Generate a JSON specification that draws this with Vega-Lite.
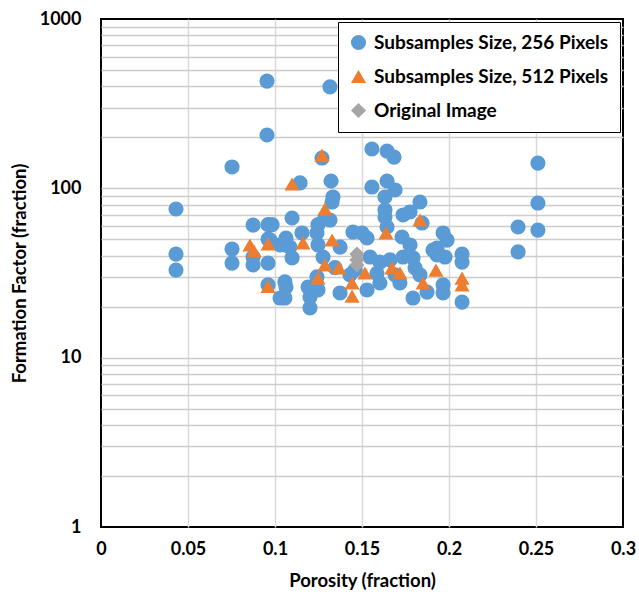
{
 "$schema": "https://vega.github.io/schema/vega-lite/v6.json",
 "width": 522, "height": 508,
 "autosize": "none",
 "padding": {"left": 101, "top": 19, "right": 16, "bottom": 74},
 "background": "white",
 "config": {
  "font": "Lato",
  "view": {"stroke": "black", "strokeWidth": 2},
  "axis": {"labelFont": "Lato", "labelFontSize": 18, "labelFontWeight": "bold", "labelColor": "black",
           "titleFont": "Lato", "titleFontSize": 18.5, "titleFontWeight": "bold", "titleColor": "black",
           "ticks": false, "domain": false, "gridWidth": 1.5, "labelOverlap": false, "labelFlush": false},
  "legend": {"labelFont": "Lato", "labelFontSize": 19, "labelFontWeight": "bold", "labelColor": "black",
             "strokeColor": "black", "fillColor": "white", "padding": 11, "rowPadding": 14,
             "symbolSize": 75, "symbolStrokeWidth": 0, "labelLimit": 400, "labelOffset": 6, "offset": 3}
 },
 "data": {"values": [
  {"s":"Subsamples Size, 256 Pixels","p":0.0431,"f":75.5},
  {"s":"Subsamples Size, 256 Pixels","p":0.0431,"f":40.9},
  {"s":"Subsamples Size, 256 Pixels","p":0.0431,"f":32.9},
  {"s":"Subsamples Size, 256 Pixels","p":0.0753,"f":133.7},
  {"s":"Subsamples Size, 256 Pixels","p":0.0753,"f":43.8},
  {"s":"Subsamples Size, 256 Pixels","p":0.0753,"f":36.2},
  {"s":"Subsamples Size, 256 Pixels","p":0.0874,"f":60.7},
  {"s":"Subsamples Size, 256 Pixels","p":0.0874,"f":39.3},
  {"s":"Subsamples Size, 256 Pixels","p":0.0874,"f":35.3},
  {"s":"Subsamples Size, 256 Pixels","p":0.0954,"f":430},
  {"s":"Subsamples Size, 256 Pixels","p":0.0954,"f":206.5},
  {"s":"Subsamples Size, 256 Pixels","p":0.096,"f":61},
  {"s":"Subsamples Size, 256 Pixels","p":0.096,"f":50.2},
  {"s":"Subsamples Size, 256 Pixels","p":0.096,"f":36.2},
  {"s":"Subsamples Size, 256 Pixels","p":0.096,"f":26.9},
  {"s":"Subsamples Size, 256 Pixels","p":0.1029,"f":46.3},
  {"s":"Subsamples Size, 256 Pixels","p":0.1029,"f":22.5},
  {"s":"Subsamples Size, 256 Pixels","p":0.1063,"f":50.9},
  {"s":"Subsamples Size, 256 Pixels","p":0.1057,"f":46.3},
  {"s":"Subsamples Size, 256 Pixels","p":0.1098,"f":66.8},
  {"s":"Subsamples Size, 256 Pixels","p":0.1098,"f":38.8},
  {"s":"Subsamples Size, 256 Pixels","p":0.1057,"f":28},
  {"s":"Subsamples Size, 256 Pixels","p":0.1063,"f":26.1},
  {"s":"Subsamples Size, 256 Pixels","p":0.1057,"f":22.5},
  {"s":"Subsamples Size, 256 Pixels","p":0.0983,"f":61},
  {"s":"Subsamples Size, 256 Pixels","p":0.0971,"f":49.6},
  {"s":"Subsamples Size, 256 Pixels","p":0.1086,"f":45},
  {"s":"Subsamples Size, 256 Pixels","p":0.1144,"f":107.6},
  {"s":"Subsamples Size, 256 Pixels","p":0.1155,"f":54.5},
  {"s":"Subsamples Size, 256 Pixels","p":0.119,"f":26.1},
  {"s":"Subsamples Size, 256 Pixels","p":0.1201,"f":22.8},
  {"s":"Subsamples Size, 256 Pixels","p":0.1201,"f":19.7},
  {"s":"Subsamples Size, 256 Pixels","p":0.1247,"f":61},
  {"s":"Subsamples Size, 256 Pixels","p":0.1241,"f":54.5},
  {"s":"Subsamples Size, 256 Pixels","p":0.1247,"f":46.3},
  {"s":"Subsamples Size, 256 Pixels","p":0.1241,"f":30},
  {"s":"Subsamples Size, 256 Pixels","p":0.1247,"f":25.1},
  {"s":"Subsamples Size, 256 Pixels","p":0.127,"f":151},
  {"s":"Subsamples Size, 256 Pixels","p":0.1276,"f":39.3},
  {"s":"Subsamples Size, 256 Pixels","p":0.1287,"f":66.8},
  {"s":"Subsamples Size, 256 Pixels","p":0.1316,"f":397},
  {"s":"Subsamples Size, 256 Pixels","p":0.1322,"f":110.5},
  {"s":"Subsamples Size, 256 Pixels","p":0.1333,"f":88.9},
  {"s":"Subsamples Size, 256 Pixels","p":0.1328,"f":83},
  {"s":"Subsamples Size, 256 Pixels","p":0.1316,"f":65},
  {"s":"Subsamples Size, 256 Pixels","p":0.1374,"f":45},
  {"s":"Subsamples Size, 256 Pixels","p":0.1374,"f":24.1},
  {"s":"Subsamples Size, 256 Pixels","p":0.1345,"f":34},
  {"s":"Subsamples Size, 256 Pixels","p":0.1448,"f":55.2},
  {"s":"Subsamples Size, 256 Pixels","p":0.15,"f":54.5},
  {"s":"Subsamples Size, 256 Pixels","p":0.1529,"f":50.9},
  {"s":"Subsamples Size, 256 Pixels","p":0.1546,"f":39.3},
  {"s":"Subsamples Size, 256 Pixels","p":0.1529,"f":25.1},
  {"s":"Subsamples Size, 256 Pixels","p":0.146,"f":33},
  {"s":"Subsamples Size, 256 Pixels","p":0.1431,"f":30.8},
  {"s":"Subsamples Size, 256 Pixels","p":0.1586,"f":31.5},
  {"s":"Subsamples Size, 256 Pixels","p":0.1557,"f":170.7},
  {"s":"Subsamples Size, 256 Pixels","p":0.1644,"f":166},
  {"s":"Subsamples Size, 256 Pixels","p":0.1684,"f":153},
  {"s":"Subsamples Size, 256 Pixels","p":0.1557,"f":101.8},
  {"s":"Subsamples Size, 256 Pixels","p":0.1644,"f":110.5},
  {"s":"Subsamples Size, 256 Pixels","p":0.169,"f":97.8},
  {"s":"Subsamples Size, 256 Pixels","p":0.1632,"f":88.9},
  {"s":"Subsamples Size, 256 Pixels","p":0.1632,"f":74.5},
  {"s":"Subsamples Size, 256 Pixels","p":0.1632,"f":67.7},
  {"s":"Subsamples Size, 256 Pixels","p":0.1644,"f":59.1},
  {"s":"Subsamples Size, 256 Pixels","p":0.1736,"f":69.6},
  {"s":"Subsamples Size, 256 Pixels","p":0.1776,"f":72.5},
  {"s":"Subsamples Size, 256 Pixels","p":0.173,"f":51.6},
  {"s":"Subsamples Size, 256 Pixels","p":0.1833,"f":83},
  {"s":"Subsamples Size, 256 Pixels","p":0.1845,"f":62.4},
  {"s":"Subsamples Size, 256 Pixels","p":0.1776,"f":46.3},
  {"s":"Subsamples Size, 256 Pixels","p":0.1603,"f":36.7},
  {"s":"Subsamples Size, 256 Pixels","p":0.1661,"f":37.8},
  {"s":"Subsamples Size, 256 Pixels","p":0.1736,"f":39.3},
  {"s":"Subsamples Size, 256 Pixels","p":0.1793,"f":38.8},
  {"s":"Subsamples Size, 256 Pixels","p":0.1805,"f":33.9},
  {"s":"Subsamples Size, 256 Pixels","p":0.1833,"f":30.8},
  {"s":"Subsamples Size, 256 Pixels","p":0.169,"f":30.8},
  {"s":"Subsamples Size, 256 Pixels","p":0.1908,"f":43.2},
  {"s":"Subsamples Size, 256 Pixels","p":0.1966,"f":54.5},
  {"s":"Subsamples Size, 256 Pixels","p":0.1977,"f":39.3},
  {"s":"Subsamples Size, 256 Pixels","p":0.1989,"f":49.5},
  {"s":"Subsamples Size, 256 Pixels","p":0.1931,"f":44.4},
  {"s":"Subsamples Size, 256 Pixels","p":0.1931,"f":40.4},
  {"s":"Subsamples Size, 256 Pixels","p":0.2075,"f":40.9},
  {"s":"Subsamples Size, 256 Pixels","p":0.2075,"f":36.7},
  {"s":"Subsamples Size, 256 Pixels","p":0.2075,"f":21.3},
  {"s":"Subsamples Size, 256 Pixels","p":0.1966,"f":26.9},
  {"s":"Subsamples Size, 256 Pixels","p":0.1966,"f":24.1},
  {"s":"Subsamples Size, 256 Pixels","p":0.1793,"f":22.5},
  {"s":"Subsamples Size, 256 Pixels","p":0.1874,"f":24.4},
  {"s":"Subsamples Size, 256 Pixels","p":0.1718,"f":27.6},
  {"s":"Subsamples Size, 256 Pixels","p":0.1603,"f":27.6},
  {"s":"Subsamples Size, 256 Pixels","p":0.2397,"f":59.1},
  {"s":"Subsamples Size, 256 Pixels","p":0.2397,"f":42.1},
  {"s":"Subsamples Size, 256 Pixels","p":0.2511,"f":141},
  {"s":"Subsamples Size, 256 Pixels","p":0.2511,"f":81.9},
  {"s":"Subsamples Size, 256 Pixels","p":0.2511,"f":56.7},
  {"s":"Subsamples Size, 512 Pixels","p":0.0856,"f":46.3},
  {"s":"Subsamples Size, 512 Pixels","p":0.0879,"f":42.7},
  {"s":"Subsamples Size, 512 Pixels","p":0.096,"f":46.9},
  {"s":"Subsamples Size, 512 Pixels","p":0.096,"f":26.3},
  {"s":"Subsamples Size, 512 Pixels","p":0.1098,"f":106},
  {"s":"Subsamples Size, 512 Pixels","p":0.127,"f":157},
  {"s":"Subsamples Size, 512 Pixels","p":0.1287,"f":75.5},
  {"s":"Subsamples Size, 512 Pixels","p":0.1161,"f":47.6},
  {"s":"Subsamples Size, 512 Pixels","p":0.1328,"f":49.5},
  {"s":"Subsamples Size, 512 Pixels","p":0.1287,"f":35.3},
  {"s":"Subsamples Size, 512 Pixels","p":0.1368,"f":33.9},
  {"s":"Subsamples Size, 512 Pixels","p":0.1247,"f":29.5},
  {"s":"Subsamples Size, 512 Pixels","p":0.1517,"f":31.6},
  {"s":"Subsamples Size, 512 Pixels","p":0.1443,"f":27.6},
  {"s":"Subsamples Size, 512 Pixels","p":0.1443,"f":23.1},
  {"s":"Subsamples Size, 512 Pixels","p":0.1638,"f":54.5},
  {"s":"Subsamples Size, 512 Pixels","p":0.1672,"f":33.9},
  {"s":"Subsamples Size, 512 Pixels","p":0.1718,"f":31.6},
  {"s":"Subsamples Size, 512 Pixels","p":0.1833,"f":65},
  {"s":"Subsamples Size, 512 Pixels","p":0.1851,"f":27.6},
  {"s":"Subsamples Size, 512 Pixels","p":0.1925,"f":32.9},
  {"s":"Subsamples Size, 512 Pixels","p":0.2075,"f":29.5},
  {"s":"Subsamples Size, 512 Pixels","p":0.2075,"f":26.9},
  {"s":"Original Image","p":0.1471,"f":40.9},
  {"s":"Original Image","p":0.1471,"f":37.8},
  {"s":"Original Image","p":0.1471,"f":35.3}
 ]},
 "mark": {"type": "point", "filled": true, "opacity": 1, "strokeWidth": 0},
 "encoding": {
  "x": {"field": "p", "type": "quantitative",
        "scale": {"domain": [0, 0.3], "nice": false, "zero": false},
        "axis": {"title": "Porosity (fraction)", "values": [0, 0.05, 0.1, 0.15, 0.2, 0.25, 0.3], "format": "~g",
                 "labelPadding": 13, "titlePadding": 13, "gridColor": "#d9d9d9",
                 "gridOpacity": {"condition": {"test": "datum.value == 0 || datum.value == 0.3", "value": 0}, "value": 1}}},
  "y": {"field": "f", "type": "quantitative",
        "scale": {"type": "log", "domain": [1, 1000], "nice": false},
        "axis": {"title": "Formation Factor (fraction)",
                 "values": [1,2,3,4,5,6,7,8,9,10,20,30,40,50,60,70,80,90,100,200,300,400,500,600,700,800,900,1000],
                 "labelExpr": "(datum.value == 1 || datum.value == 10 || datum.value == 100 || datum.value == 1000) ? '' + datum.value : ''",
                 "labelPadding": 20, "titlePadding": 10, "gridColor": "#cccccc",
                 "gridOpacity": {"condition": {"test": "datum.value == 1 || datum.value == 1000", "value": 0}, "value": 1}}},
  "color": {"field": "s", "type": "nominal",
            "scale": {"domain": ["Subsamples Size, 256 Pixels", "Subsamples Size, 512 Pixels", "Original Image"],
                      "range": ["#5B9BD5", "#ED7D31", "#A5A5A5"]},
            "legend": {"title": null, "orient": "top-right"}},
  "shape": {"field": "s", "type": "nominal",
            "scale": {"domain": ["Subsamples Size, 256 Pixels", "Subsamples Size, 512 Pixels", "Original Image"],
                      "range": ["circle", "triangle-up", "diamond"]},
            "legend": {"title": null, "orient": "top-right"}},
  "size": {"field": "s", "type": "nominal",
           "scale": {"domain": ["Subsamples Size, 256 Pixels", "Subsamples Size, 512 Pixels", "Original Image"],
                     "range": [230, 230, 110]},
           "legend": null}
 }
}
